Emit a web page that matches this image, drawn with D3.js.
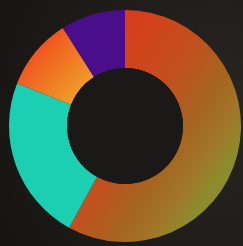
<!DOCTYPE html>
<html><head><meta charset="utf-8">
<script src="https://cdn.jsdelivr.net/npm/d3@7"></script>
<style>html,body{margin:0;padding:0;background:#1c1a18;overflow:hidden}</style>
</head><body>
<svg id="chart" width="243" height="246"></svg>
<script>
const categories = ["A", "B", "C", "D"];
const values = [58, 23, 10, 9];
const colors = ["url(#gA)", "#1ccfb2", "url(#gC)", "#4a0e8a"];

const W = 243, H = 246, cx = 125, cy = 126, rOut = 116, rIn = 58;
const svg = d3.select("#chart");
const defs = svg.append("defs");

const bg = defs.append("radialGradient").attr("id", "bg").attr("gradientUnits", "userSpaceOnUse")
  .attr("cx", 220).attr("cy", 110).attr("r", 260);
bg.append("stop").attr("offset", 0).attr("stop-color", "#2a2622");
bg.append("stop").attr("offset", 1).attr("stop-color", "#161412");

// gradient coords are relative to the donut centre (paths live in translated group)
const gA = defs.append("linearGradient").attr("id", "gA").attr("gradientUnits", "userSpaceOnUse")
  .attr("x1", -54).attr("y1", -36).attr("x2", 88).attr("y2", 58);
[[0, "#dc3a1a"], [0.46, "#c2501e"], [0.69, "#a6641f"], [0.88, "#a07829"], [1, "#8c8c2c"]]
  .forEach(([o, c]) => gA.append("stop").attr("offset", o).attr("stop-color", c));

const gC = defs.append("linearGradient").attr("id", "gC").attr("gradientUnits", "userSpaceOnUse")
  .attr("x1", -95).attr("y1", -80).attr("x2", -38).attr("y2", -28);
gC.append("stop").attr("offset", 0).attr("stop-color", "#f04c1e");
gC.append("stop").attr("offset", 1).attr("stop-color", "#f0a62c");

svg.append("rect").attr("width", W).attr("height", H).attr("fill", "url(#bg)");

const pie = d3.pie().sort(null).value(d => d)(values);
const arc = d3.arc().innerRadius(rIn).outerRadius(rOut);

svg.append("g").attr("transform", `translate(${cx},${cy})`)
  .selectAll("path").data(pie).join("path")
  .attr("d", arc)
  .attr("fill", (d, i) => colors[i]);

svg.append("circle").attr("cx", cx).attr("cy", cy).attr("r", rIn).attr("fill", "#1b1917");
</script>
</body></html>
